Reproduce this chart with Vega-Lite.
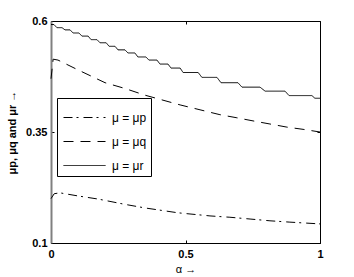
{
  "$schema": "https://vega.github.io/schema/vega-lite/v6.json",
  "width": 269,
  "height": 222,
  "autosize": {"type": "none"},
  "padding": {"left": 51, "top": 21, "right": 34, "bottom": 34},
  "config": {"view": {"stroke": "black", "strokeWidth": 1}, "font": "Liberation Sans"},
  "data": {"values": [
    {"s": "μ = μp", "x": 0, "y": 0.200},
    {"s": "μ = μp", "x": 0.012, "y": 0.211},
    {"s": "μ = μp", "x": 0.033, "y": 0.213},
    {"s": "μ = μp", "x": 0.100, "y": 0.206},
    {"s": "μ = μp", "x": 0.175, "y": 0.199},
    {"s": "μ = μp", "x": 0.275, "y": 0.187},
    {"s": "μ = μp", "x": 0.349, "y": 0.179},
    {"s": "μ = μp", "x": 0.472, "y": 0.168},
    {"s": "μ = μp", "x": 0.591, "y": 0.161},
    {"s": "μ = μp", "x": 0.665, "y": 0.158},
    {"s": "μ = μp", "x": 0.740, "y": 0.154},
    {"s": "μ = μp", "x": 0.814, "y": 0.150},
    {"s": "μ = μp", "x": 0.888, "y": 0.147},
    {"s": "μ = μp", "x": 1.0, "y": 0.143},
    {"s": "μ = μq", "x": 0, "y": 0.470},
    {"s": "μ = μq", "x": 0.008, "y": 0.514},
    {"s": "μ = μq", "x": 0.026, "y": 0.512},
    {"s": "μ = μq", "x": 0.100, "y": 0.490},
    {"s": "μ = μq", "x": 0.201, "y": 0.461},
    {"s": "μ = μq", "x": 0.275, "y": 0.448},
    {"s": "μ = μq", "x": 0.349, "y": 0.433},
    {"s": "μ = μq", "x": 0.480, "y": 0.411},
    {"s": "μ = μq", "x": 0.554, "y": 0.400},
    {"s": "μ = μq", "x": 0.628, "y": 0.389},
    {"s": "μ = μq", "x": 0.691, "y": 0.382},
    {"s": "μ = μq", "x": 0.751, "y": 0.375},
    {"s": "μ = μq", "x": 0.814, "y": 0.368},
    {"s": "μ = μq", "x": 0.877, "y": 0.361},
    {"s": "μ = μq", "x": 0.937, "y": 0.356},
    {"s": "μ = μq", "x": 1.0, "y": 0.350},
    {"s": "μ = μr", "x": 0, "y": 0.592},
    {"s": "μ = μr", "x": 0.011, "y": 0.592},
    {"s": "μ = μr", "x": 0.022, "y": 0.585},
    {"s": "μ = μr", "x": 0.041, "y": 0.585},
    {"s": "μ = μr", "x": 0.052, "y": 0.580},
    {"s": "μ = μr", "x": 0.071, "y": 0.580},
    {"s": "μ = μr", "x": 0.082, "y": 0.573},
    {"s": "μ = μr", "x": 0.104, "y": 0.573},
    {"s": "μ = μr", "x": 0.115, "y": 0.566},
    {"s": "μ = μr", "x": 0.138, "y": 0.566},
    {"s": "μ = μr", "x": 0.149, "y": 0.558},
    {"s": "μ = μr", "x": 0.171, "y": 0.558},
    {"s": "μ = μr", "x": 0.182, "y": 0.551},
    {"s": "μ = μr", "x": 0.205, "y": 0.551},
    {"s": "μ = μr", "x": 0.216, "y": 0.543},
    {"s": "μ = μr", "x": 0.238, "y": 0.543},
    {"s": "μ = μr", "x": 0.249, "y": 0.535},
    {"s": "μ = μr", "x": 0.275, "y": 0.535},
    {"s": "μ = μr", "x": 0.286, "y": 0.528},
    {"s": "μ = μr", "x": 0.312, "y": 0.528},
    {"s": "μ = μr", "x": 0.323, "y": 0.519},
    {"s": "μ = μr", "x": 0.353, "y": 0.519},
    {"s": "μ = μr", "x": 0.364, "y": 0.512},
    {"s": "μ = μr", "x": 0.394, "y": 0.512},
    {"s": "μ = μr", "x": 0.405, "y": 0.503},
    {"s": "μ = μr", "x": 0.435, "y": 0.503},
    {"s": "μ = μr", "x": 0.446, "y": 0.494},
    {"s": "μ = μr", "x": 0.480, "y": 0.494},
    {"s": "μ = μr", "x": 0.491, "y": 0.484},
    {"s": "μ = μr", "x": 0.547, "y": 0.484},
    {"s": "μ = μr", "x": 0.561, "y": 0.473},
    {"s": "μ = μr", "x": 0.617, "y": 0.473},
    {"s": "μ = μr", "x": 0.632, "y": 0.461},
    {"s": "μ = μr", "x": 0.695, "y": 0.461},
    {"s": "μ = μr", "x": 0.710, "y": 0.451},
    {"s": "μ = μr", "x": 0.777, "y": 0.451},
    {"s": "μ = μr", "x": 0.796, "y": 0.442},
    {"s": "μ = μr", "x": 0.870, "y": 0.442},
    {"s": "μ = μr", "x": 0.885, "y": 0.432},
    {"s": "μ = μr", "x": 0.970, "y": 0.432},
    {"s": "μ = μr", "x": 0.981, "y": 0.426},
    {"s": "μ = μr", "x": 1.0, "y": 0.426}
  ]},
  "layer": [
    {
      "mark": {"type": "line", "strokeWidth": 1, "color": "black"},
      "encoding": {
        "x": {"field": "x", "type": "quantitative",
          "scale": {"domain": [0, 1], "nice": false, "zero": false},
          "axis": {"values": [0, 0.5, 1], "labelExpr": "datum.value + ''", "grid": false, "domainColor": "black", "tickColor": "black", "tickSize": -3,
            "labelFontWeight": "bold", "labelFontSize": 11, "labelColor": "black", "labelPadding": 8, "labelFlush": false,
            "title": "α  →", "titleFontWeight": "normal", "titleFontSize": 11, "titleColor": "black", "titlePadding": 4}},
        "y": {"field": "y", "type": "quantitative",
          "scale": {"domain": [0.1, 0.6], "nice": false, "zero": false},
          "axis": {"values": [0.1, 0.35, 0.6], "labelExpr": "datum.value + ''", "grid": false, "domainColor": "#808080", "domainWidth": 2, "tickColor": "black", "tickSize": -3,
            "labelFontWeight": "bold", "labelFontSize": 11, "labelColor": "black", "labelPadding": 7, "labelFlush": false,
            "title": "μp, μq and μr  →", "titleFontWeight": "bold", "titleFontSize": 11, "titleColor": "black",
            "titleX": -39, "titleY": 111, "titleAngle": 270, "titleAlign": "center", "titleBaseline": "middle"}},
        "strokeDash": {"field": "s", "type": "nominal",
          "scale": {"domain": ["μ = μp", "μ = μq", "μ = μr"], "range": [[9, 4, 2, 5], [10, 7], [1, 0]]},
          "legend": {"orient": "none", "legendX": 6, "legendY": 77, "title": null, "symbolType": "M-1.4,0H1.4",
            "symbolSize": 900, "symbolStrokeWidth": 1, "symbolStrokeColor": "black", "symbolFillColor": "transparent", "strokeColor": "black",
            "fillColor": "white", "padding": 4, "symbolOffset": 8, "rowPadding": 2, "labelFontSize": 12, "labelOffset": 12, "labelColor": "black"}}
      }
    },
    {
      "mark": {"type": "line", "opacity": 0},
      "encoding": {
        "x": {"field": "x", "type": "quantitative",
          "axis": {"orient": "top", "values": [0, 0.5, 1], "grid": false, "domain": false, "labels": false, "title": null, "tickColor": "black", "tickSize": -3}},
        "y": {"field": "y", "type": "quantitative",
          "axis": {"orient": "right", "values": [0.1, 0.35, 0.6], "grid": false, "domain": false, "labels": false, "title": null, "tickColor": "black", "tickSize": -3}},
        "detail": {"field": "s", "type": "nominal"}
      }
    }
  ],
  "resolve": {"axis": {"x": "independent", "y": "independent"}}
}
